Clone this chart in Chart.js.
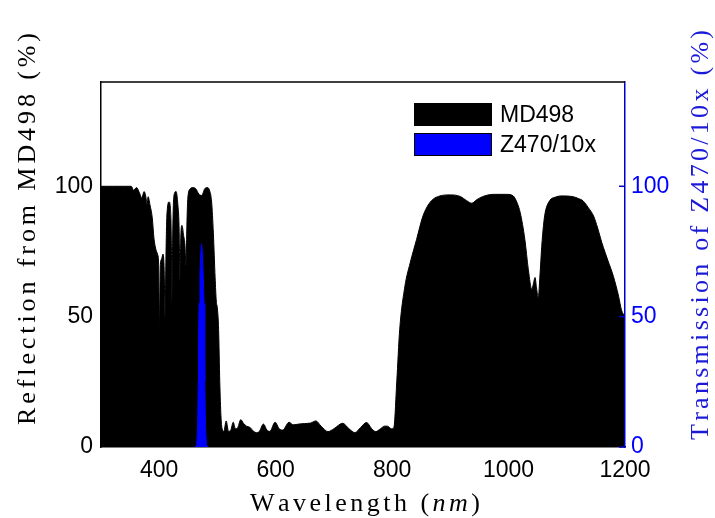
<!DOCTYPE html>
<html>
<head>
<meta charset="utf-8">
<script src="https://cdn.jsdelivr.net/npm/chart.js@4"></script>
<style>
  html, body { margin: 0; padding: 0; background: #fff; }
  canvas { display: block; }
</style>
</head>
<body>
<canvas id="chart" width="715" height="518"></canvas>
<script>
// MD498 reflection (%)
const mdWave = [300, 320, 340, 352, 356, 361, 366, 370, 374, 377, 379, 381, 384, 388, 391, 394, 397, 399, 400.5,
  402, 404, 406.5, 408.5, 410, 411.5, 413, 417, 420, 421, 422, 423, 425, 429, 432, 434, 435.7, 437, 439, 442, 444,
  446, 447.5, 449, 453, 458, 463, 468, 473, 478, 483, 487, 490, 493, 496, 498, 500, 502, 504, 506, 508,
  511, 515, 519, 523, 527, 531, 535, 540, 545, 550, 556, 562, 567, 572, 579, 585, 590, 599, 606, 612,
  623, 630, 640, 650, 660, 669, 678, 690, 700, 715, 726, 736, 746, 756, 765, 772, 780, 787, 792, 799,
  803, 808, 813, 822, 831, 842, 853, 865, 882, 900, 917, 928, 937, 945, 955, 974, 997, 1008, 1015,
  1020, 1028, 1034, 1040, 1043, 1045.5, 1048, 1051, 1054, 1057, 1060, 1063, 1071, 1080, 1090, 1111,
  1120, 1128, 1137, 1146, 1153, 1160, 1166, 1171, 1180, 1189, 1194, 1200];
const mdRefl = [100, 100, 100, 100, 98.5, 99.5, 97.5, 95.5, 98, 96, 93, 96, 93, 88, 80, 76, 74, 70, 46,
  70, 72, 74, 68, 50, 72, 88, 94, 88, 75, 55, 78, 96, 98, 93, 85, 64, 80, 85, 81, 78,
  70, 85, 95, 99, 99.5, 99, 97, 96.5, 99, 99.5, 98, 94, 82, 65, 56, 53, 45, 25, 12, 7,
  6, 10, 6, 6.5, 9.5, 7, 7.5, 10.5, 9, 8, 7.5, 6, 5.5, 6, 8.8, 6.5, 6, 9.5, 7, 6.5,
  9.5, 8.5, 8.8, 9, 9.2, 10, 8, 5.9, 7, 9.1, 7, 5.5, 7.5, 9.4, 7, 5.9, 7, 8, 8, 7,
  7.5, 25, 45, 61.7, 70.6, 79.6, 88.6, 93.8, 96.3, 96.7, 96.1, 94.5, 93.5, 94.8, 96, 96.9, 96.9, 96.3, 93.5,
  89.9, 79.6, 68, 60.4, 63, 65, 61, 57.3, 66, 77, 85, 90, 94.6, 95.8, 96.3, 96,
  95.3, 94.4, 91.8, 88.6, 84, 78.5, 74.5, 71.3, 65.5, 57.8, 52.5, 50];

// Z470/10x transmission (%)
const zWave = [462, 464.5, 466, 467, 467.5, 468.5, 470, 471.5, 472.8, 474, 475.5, 477, 478, 478.5, 479.5, 481, 483.5];
const zTrans = [0, 1, 8, 25, 40, 55, 66, 75, 78, 75, 66, 55, 40, 25, 8, 1, 0];

const xTicks = [400, 600, 800, 1000, 1200];
const yTicks = [0, 50, 100];

const legendItems = ["MD498", "Z470/10x"];
const BLUE = "#0000ff";

function pts(xs, ys) {
    return xs.map((x, i) => ({ x: x, y: ys[i] }));
}

// draws text char by char so it spans a given length (latex-like spacing)
function spacedText(ctx, parts, cx, cy, len, angle, color) {
    ctx.save();
    ctx.translate(cx, cy);
    ctx.rotate(angle);
    ctx.fillStyle = color;
    ctx.textBaseline = "alphabetic";
    ctx.textAlign = "left";
    const chars = [];
    parts.forEach(p => {
        ctx.font = p.font;
        for (const c of p.text) chars.push({ c: c, font: p.font, w: ctx.measureText(c).width });
    });
    const natural = chars.reduce((s, c) => s + c.w, 0);
    const gap = (len - natural) / (chars.length - 1);
    let x = -len / 2;
    chars.forEach(ch => {
        ctx.font = ch.font;
        ctx.fillText(ch.c, x, 0);
        x += ch.w + gap;
    });
    ctx.restore();
}

const decor = {
    id: "decor",
    afterDraw(chart) {
        const ctx = chart.ctx;
        const a = chart.chartArea;
        const y2 = chart.scales.y2;

        // top box line
        ctx.save();
        ctx.strokeStyle = "#000";
        ctx.lineWidth = 1.5;
        ctx.beginPath();
        ctx.moveTo(a.left, a.top);
        ctx.lineTo(a.right, a.top);
        ctx.stroke();

        // right axis inward ticks
        ctx.strokeStyle = "#0000cc";
        ctx.lineWidth = 1.5;
        yTicks.forEach(v => {
            const py = y2.getPixelForValue(v);
            ctx.beginPath();
            ctx.moveTo(a.right, py);
            ctx.lineTo(a.right - 6, py);
            ctx.stroke();
        });

        // legend
        const sw = [["#000", "#000"], [BLUE, "#000"]];
        const rows = [103, 133];
        ctx.font = "23px 'Liberation Sans'";
        ctx.textBaseline = "middle";
        legendItems.forEach((t, i) => {
            ctx.fillStyle = sw[i][0];
            ctx.fillRect(414, rows[i], 78, 23);
            ctx.strokeStyle = sw[i][1];
            ctx.lineWidth = 1;
            ctx.strokeRect(414.5, rows[i] + 0.5, 77, 22);
            ctx.fillStyle = "#000";
            ctx.fillText(t, 500, rows[i] + 13);
        });
        ctx.restore();

        // axis titles
        const serif = "26px 'Liberation Serif'";
        spacedText(ctx, [{ text: "Reflection from MD498 (%)", font: serif }], 35, 229, 392, -Math.PI / 2, "#000");
        spacedText(ctx, [{ text: "Transmission of Z470/10x (%)", font: serif }], 708, 235, 410, -Math.PI / 2, "#1a1ad8");
        spacedText(ctx, [
            { text: "Wavelength (", font: serif },
            { text: "nm", font: "italic " + serif },
            { text: ")", font: serif }
        ], 365, 511, 230, 0, "#000");
    }
};

const canvas = document.querySelector("#chart");

new Chart(canvas.getContext("2d"), {
    type: "line",
    data: {
        datasets: [
            {
                label: legendItems[0],
                data: pts(mdWave, mdRefl),
                yAxisID: "y",
                borderColor: "#000",
                backgroundColor: "#000",
                borderWidth: 1,
                fill: "origin",
                pointRadius: 0,
                cubicInterpolationMode: "monotone",
                order: 2,
            },
            {
                label: legendItems[1],
                data: pts(zWave, zTrans),
                yAxisID: "y2",
                borderColor: BLUE,
                backgroundColor: BLUE,
                borderWidth: 1,
                fill: "origin",
                pointRadius: 0,
                tension: 0,
                order: 1,
            },
        ],
    },
    options: {
        responsive: false,
        animation: false,
        devicePixelRatio: 1,
        layout: { padding: { top: 82, left: 0, right: 0, bottom: 0 } },
        plugins: {
            legend: { display: false },
            tooltip: { enabled: false },
        },
        scales: {
            x: {
                type: "linear",
                position: "bottom",
                min: 300,
                max: 1200,
                afterBuildTicks: s => { s.ticks = xTicks.map(v => ({ value: v })); },
                afterFit: s => { s.height = 71; },
                grid: { display: false, drawTicks: false },
                border: { display: true, color: "#000", width: 1.5 },
                ticks: {
                    color: "#000",
                    font: { family: "Liberation Sans", size: 23 },
                    padding: 10,
                    maxRotation: 0,
                    autoSkip: false,
                    callback: v => String(v),
                },
            },
            y: {
                type: "linear",
                position: "left",
                min: 0,
                max: 140,
                afterBuildTicks: s => { s.ticks = yTicks.map(v => ({ value: v })); },
                afterFit: s => { s.width = 101; },
                grid: { display: false, drawTicks: false },
                border: { display: true, color: "#000", width: 1.5 },
                ticks: {
                    color: "#000",
                    font: { family: "Liberation Sans", size: 23 },
                    padding: 8,
                    callback: v => String(v),
                },
            },
            y2: {
                type: "linear",
                position: "right",
                min: 0,
                max: 140,
                afterBuildTicks: s => { s.ticks = yTicks.map(v => ({ value: v })); },
                afterFit: s => { s.width = 90; },
                grid: { display: false, drawTicks: false },
                border: { display: true, color: "#0000cc", width: 1.5, z: 1 },
                ticks: {
                    color: BLUE,
                    font: { family: "Liberation Sans", size: 23 },
                    padding: 6,
                    callback: v => String(v),
                },
            },
        },
    },
    plugins: [decor],
});
</script>
</body>
</html>
